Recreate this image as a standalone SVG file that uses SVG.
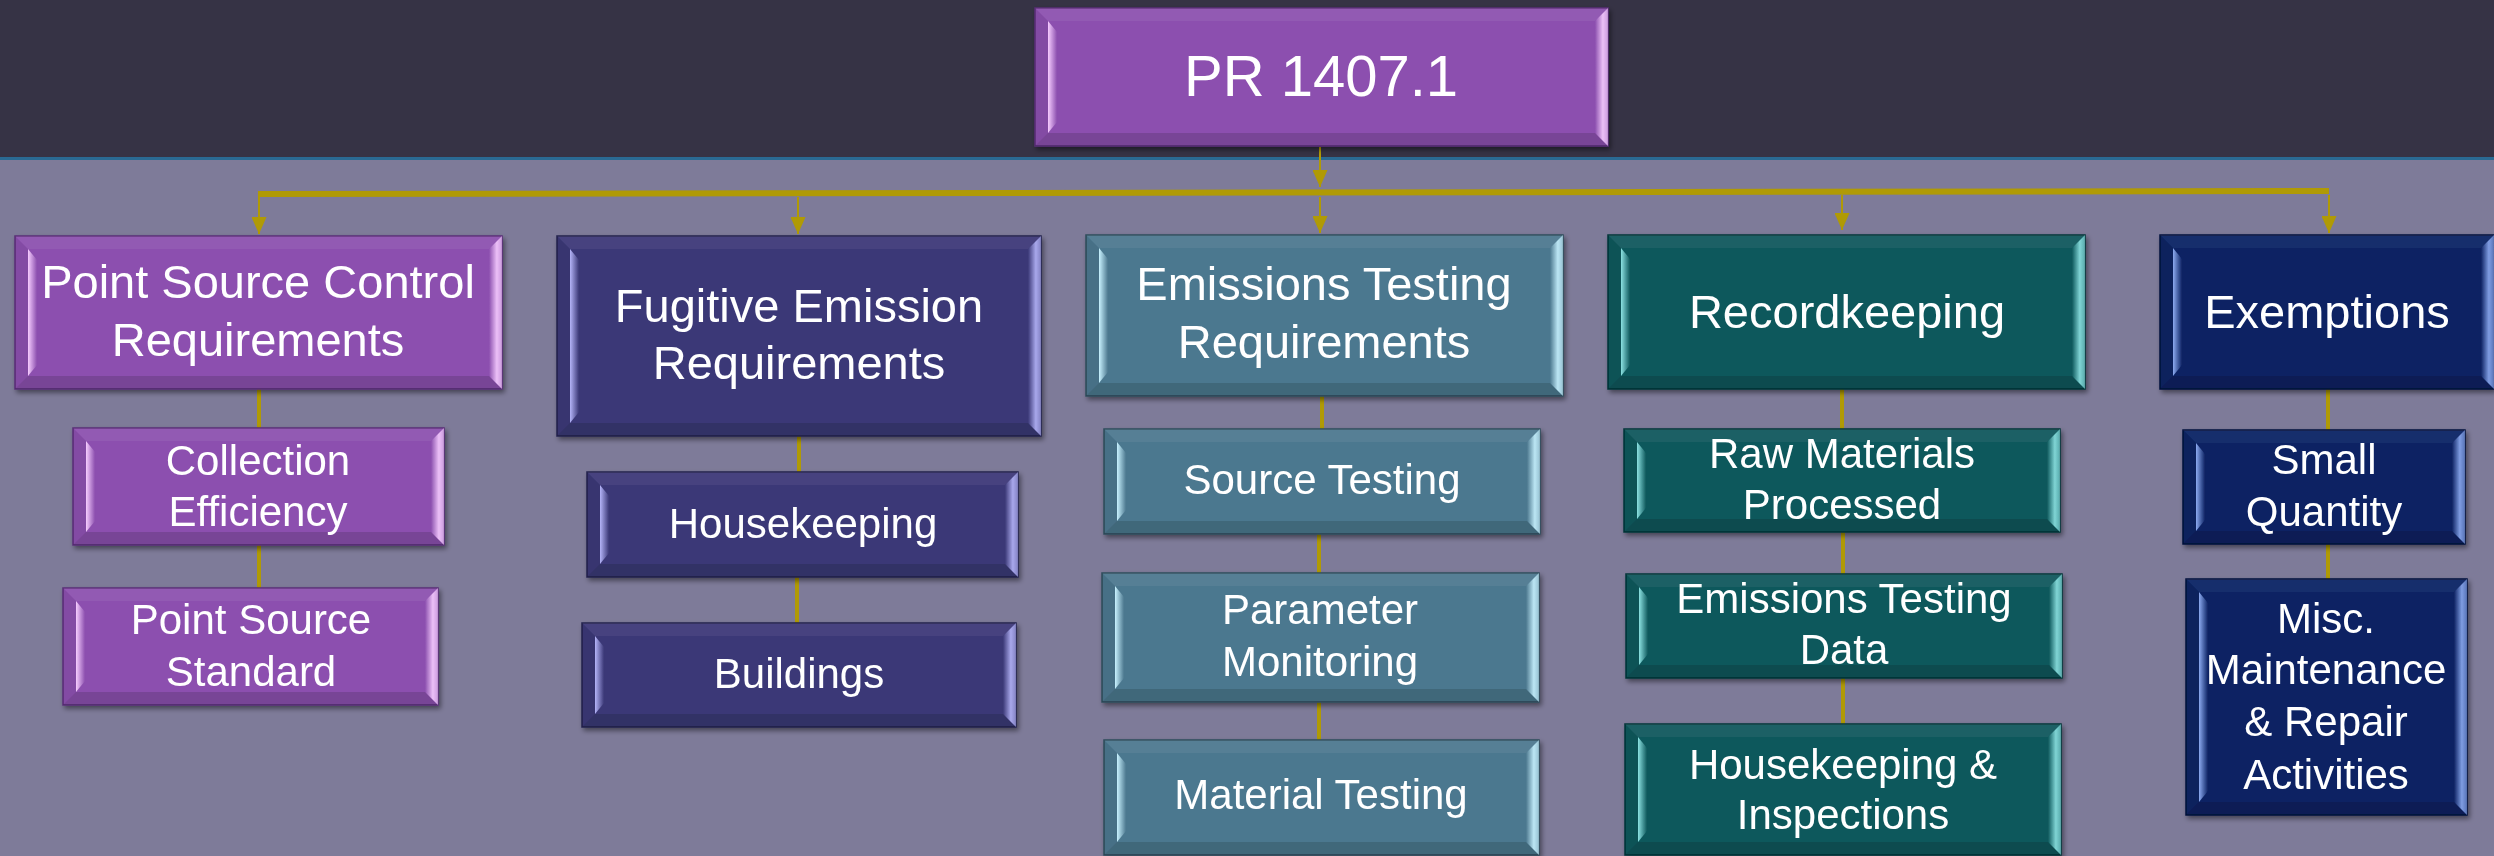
<svg xmlns="http://www.w3.org/2000/svg" width="2494" height="856" viewBox="0 0 2494 856">
<defs>
<style>
.t{font-family:"Liberation Sans",Arial,sans-serif;fill:#fff;text-anchor:middle}
.t0{font-size:58px}
.t1{font-size:47px}
.t2{font-size:42px}
.box{stroke-width:1.5}
.top{fill:#fff;fill-opacity:.06}
.bot{fill:#000;fill-opacity:.14}
.lft{fill:#000;fill-opacity:.06}
.purple .box{fill:#8C50AF;stroke:#5A2E78}
.purple .lhl{fill:url(#lhlP)}
.purple .rt{fill:url(#rtP)}
.indigo .box{fill:#3B3877;stroke:#24224E}
.indigo .lhl{fill:url(#lhlI)}
.indigo .rt{fill:url(#rtI)}
.steel .box{fill:#4C788F;stroke:#2E4C5C}
.steel .lhl{fill:url(#lhlS)}
.steel .rt{fill:url(#rtS)}
.teal .box{fill:#0D585C;stroke:#053538}
.teal .lhl{fill:url(#lhlT)}
.teal .rt{fill:url(#rtT)}
.navy .box{fill:#0B2263;stroke:#06143E}
.navy .lhl{fill:url(#lhlN)}
.navy .rt{fill:url(#rtN)}
.node{filter:url(#sh)}
.conn{stroke:#B09A05;fill:none}
.vline{stroke-width:4}
.arrow{stroke-width:2;marker-end:url(#ah)}
</style>
<filter id="sh" x="-5%" y="-5%" width="112%" height="115%">
<feDropShadow dx="2" dy="3" stdDeviation="2.5" flood-color="#000" flood-opacity="0.45"/>
</filter>
<marker id="ah" viewBox="0 0 17 15" refX="17" refY="7.5" markerWidth="17" markerHeight="15" markerUnits="userSpaceOnUse" orient="auto">
<path d="M0,0 L17,7.5 L0,15 Z" fill="#B09A05"/>
</marker>
<linearGradient id="lhlP" x1="0" y1="0" x2="1" y2="0"><stop offset="0" stop-color="#F6CCFF" stop-opacity="1"/><stop offset="1" stop-color="#F6CCFF" stop-opacity="0"/></linearGradient>
<linearGradient id="rtP" x1="0" y1="0" x2="1" y2="0"><stop offset="0" stop-color="#F6CCFF" stop-opacity="0"/><stop offset="0.6" stop-color="#F6CCFF" stop-opacity="0.9"/><stop offset="1" stop-color="#F6CCFF" stop-opacity="0.6"/></linearGradient>
<linearGradient id="lhlI" x1="0" y1="0" x2="1" y2="0"><stop offset="0" stop-color="#B4B4F8" stop-opacity="1"/><stop offset="1" stop-color="#B4B4F8" stop-opacity="0"/></linearGradient>
<linearGradient id="rtI" x1="0" y1="0" x2="1" y2="0"><stop offset="0" stop-color="#B4B4F8" stop-opacity="0"/><stop offset="0.6" stop-color="#B4B4F8" stop-opacity="0.9"/><stop offset="1" stop-color="#B4B4F8" stop-opacity="0.6"/></linearGradient>
<linearGradient id="lhlS" x1="0" y1="0" x2="1" y2="0"><stop offset="0" stop-color="#C8F2FF" stop-opacity="1"/><stop offset="1" stop-color="#C8F2FF" stop-opacity="0"/></linearGradient>
<linearGradient id="rtS" x1="0" y1="0" x2="1" y2="0"><stop offset="0" stop-color="#C8F2FF" stop-opacity="0"/><stop offset="0.6" stop-color="#C8F2FF" stop-opacity="0.9"/><stop offset="1" stop-color="#C8F2FF" stop-opacity="0.6"/></linearGradient>
<linearGradient id="lhlT" x1="0" y1="0" x2="1" y2="0"><stop offset="0" stop-color="#8CE2E2" stop-opacity="1"/><stop offset="1" stop-color="#8CE2E2" stop-opacity="0"/></linearGradient>
<linearGradient id="rtT" x1="0" y1="0" x2="1" y2="0"><stop offset="0" stop-color="#8CE2E2" stop-opacity="0"/><stop offset="0.6" stop-color="#8CE2E2" stop-opacity="0.9"/><stop offset="1" stop-color="#8CE2E2" stop-opacity="0.6"/></linearGradient>
<linearGradient id="lhlN" x1="0" y1="0" x2="1" y2="0"><stop offset="0" stop-color="#8CAAF0" stop-opacity="1"/><stop offset="1" stop-color="#8CAAF0" stop-opacity="0"/></linearGradient>
<linearGradient id="rtN" x1="0" y1="0" x2="1" y2="0"><stop offset="0" stop-color="#8CAAF0" stop-opacity="0"/><stop offset="0.6" stop-color="#8CAAF0" stop-opacity="0.9"/><stop offset="1" stop-color="#8CAAF0" stop-opacity="0.6"/></linearGradient>
</defs>

<g id="background">
<rect x="0" y="0" width="2494" height="856" fill="#7E7B99"/>
<rect x="0" y="0" width="2494" height="157" fill="#363345"/>
<rect x="0" y="157" width="2494" height="3" fill="#2A6A93"/>
</g>

<g id="connectors">
<line class="conn arrow" x1="1320" y1="147" x2="1320" y2="187"/>
<line class="conn" x1="258" y1="194" x2="2329" y2="191" stroke-width="6"/>
<line class="conn arrow" x1="259" y1="197" x2="259" y2="234"/>
<line class="conn arrow" x1="798" y1="197" x2="798" y2="234"/>
<line class="conn arrow" x1="1320" y1="197" x2="1320" y2="233"/>
<line class="conn arrow" x1="1842" y1="195" x2="1842" y2="230"/>
<line class="conn arrow" x1="2329" y1="195" x2="2329" y2="233"/>
<line class="conn vline" x1="259" y1="389" x2="259" y2="428"/>
<line class="conn vline" x1="259" y1="545" x2="259" y2="588"/>
<line class="conn vline" x1="799" y1="436" x2="799" y2="472"/>
<line class="conn vline" x1="797" y1="577" x2="797" y2="623"/>
<line class="conn vline" x1="1322" y1="396" x2="1322" y2="429"/>
<line class="conn vline" x1="1319" y1="534" x2="1319" y2="573"/>
<line class="conn vline" x1="1319" y1="702" x2="1319" y2="740"/>
<line class="conn vline" x1="1842" y1="389" x2="1842" y2="429"/>
<line class="conn vline" x1="1843" y1="532" x2="1843" y2="574"/>
<line class="conn vline" x1="1843" y1="678" x2="1843" y2="724"/>
<line class="conn vline" x1="2328" y1="389" x2="2328" y2="430"/>
<line class="conn vline" x1="2328" y1="544" x2="2328" y2="579"/>
</g>

<g id="root" class="node purple">
<rect class="box" x="1035" y="8" width="573" height="138"/>
<polygon class="top" points="1035,8 1608,8 1595,21 1048,21"/>
<polygon class="bot" points="1035,146 1608,146 1595,133 1048,133"/>
<polygon class="lft" points="1035,8 1048,21 1048,133 1035,146"/>
<polygon class="lhl" points="1048,21 1057,32 1057,122 1048,133"/>
<polygon class="rt" points="1608,8 1595,21 1595,133 1608,146"/>
<text class="t t0" x="1321" y="96">PR 1407.1</text>
</g>

<g id="point-source-control" class="node purple">
<rect class="box" x="15" y="236" width="487" height="153"/>
<polygon class="top" points="15,236 502,236 489,249 28,249"/>
<polygon class="bot" points="15,389 502,389 489,376 28,376"/>
<polygon class="lft" points="15,236 28,249 28,376 15,389"/>
<polygon class="lhl" points="28,249 37,260 37,365 28,376"/>
<polygon class="rt" points="502,236 489,249 489,376 502,389"/>
<text class="t t1" x="258" y="298">Point Source Control</text>
<text class="t t1" x="258" y="356">Requirements</text>
</g>

<g id="collection-efficiency" class="node purple">
<rect class="box" x="73" y="428" width="371" height="117"/>
<polygon class="top" points="73,428 444,428 431,441 86,441"/>
<polygon class="bot" points="73,545 444,545 431,532 86,532"/>
<polygon class="lft" points="73,428 86,441 86,532 73,545"/>
<polygon class="lhl" points="86,441 95,452 95,521 86,532"/>
<polygon class="rt" points="444,428 431,441 431,532 444,545"/>
<text class="t t2" x="258" y="475">Collection</text>
<text class="t t2" x="258" y="526">Efficiency</text>
</g>

<g id="point-source-standard" class="node purple">
<rect class="box" x="63" y="588" width="375" height="117"/>
<polygon class="top" points="63,588 438,588 425,601 76,601"/>
<polygon class="bot" points="63,705 438,705 425,692 76,692"/>
<polygon class="lft" points="63,588 76,601 76,692 63,705"/>
<polygon class="lhl" points="76,601 85,612 85,681 76,692"/>
<polygon class="rt" points="438,588 425,601 425,692 438,705"/>
<text class="t t2" x="251" y="634">Point Source</text>
<text class="t t2" x="251" y="686">Standard</text>
</g>

<g id="fugitive-emission" class="node indigo">
<rect class="box" x="557" y="236" width="484" height="200"/>
<polygon class="top" points="557,236 1041,236 1028,249 570,249"/>
<polygon class="bot" points="557,436 1041,436 1028,423 570,423"/>
<polygon class="lft" points="557,236 570,249 570,423 557,436"/>
<polygon class="lhl" points="570,249 579,260 579,412 570,423"/>
<polygon class="rt" points="1041,236 1028,249 1028,423 1041,436"/>
<text class="t t1" x="799" y="322">Fugitive Emission</text>
<text class="t t1" x="799" y="379">Requirements</text>
</g>

<g id="housekeeping" class="node indigo">
<rect class="box" x="587" y="472" width="431" height="105"/>
<polygon class="top" points="587,472 1018,472 1005,485 600,485"/>
<polygon class="bot" points="587,577 1018,577 1005,564 600,564"/>
<polygon class="lft" points="587,472 600,485 600,564 587,577"/>
<polygon class="lhl" points="600,485 609,496 609,553 600,564"/>
<polygon class="rt" points="1018,472 1005,485 1005,564 1018,577"/>
<text class="t t2" x="803" y="538">Housekeeping</text>
</g>

<g id="buildings" class="node indigo">
<rect class="box" x="582" y="623" width="434" height="104"/>
<polygon class="top" points="582,623 1016,623 1003,636 595,636"/>
<polygon class="bot" points="582,727 1016,727 1003,714 595,714"/>
<polygon class="lft" points="582,623 595,636 595,714 582,727"/>
<polygon class="lhl" points="595,636 604,647 604,703 595,714"/>
<polygon class="rt" points="1016,623 1003,636 1003,714 1016,727"/>
<text class="t t2" x="799" y="688">Buildings</text>
</g>

<g id="emissions-testing" class="node steel">
<rect class="box" x="1086" y="235" width="477" height="161"/>
<polygon class="top" points="1086,235 1563,235 1550,248 1099,248"/>
<polygon class="bot" points="1086,396 1563,396 1550,383 1099,383"/>
<polygon class="lft" points="1086,235 1099,248 1099,383 1086,396"/>
<polygon class="lhl" points="1099,248 1108,259 1108,372 1099,383"/>
<polygon class="rt" points="1563,235 1550,248 1550,383 1563,396"/>
<text class="t t1" x="1324" y="300">Emissions Testing</text>
<text class="t t1" x="1324" y="358">Requirements</text>
</g>

<g id="source-testing" class="node steel">
<rect class="box" x="1104" y="429" width="436" height="105"/>
<polygon class="top" points="1104,429 1540,429 1527,442 1117,442"/>
<polygon class="bot" points="1104,534 1540,534 1527,521 1117,521"/>
<polygon class="lft" points="1104,429 1117,442 1117,521 1104,534"/>
<polygon class="lhl" points="1117,442 1126,453 1126,510 1117,521"/>
<polygon class="rt" points="1540,429 1527,442 1527,521 1540,534"/>
<text class="t t2" x="1322" y="494">Source Testing</text>
</g>

<g id="parameter-monitoring" class="node steel">
<rect class="box" x="1102" y="573" width="437" height="129"/>
<polygon class="top" points="1102,573 1539,573 1526,586 1115,586"/>
<polygon class="bot" points="1102,702 1539,702 1526,689 1115,689"/>
<polygon class="lft" points="1102,573 1115,586 1115,689 1102,702"/>
<polygon class="lhl" points="1115,586 1124,597 1124,678 1115,689"/>
<polygon class="rt" points="1539,573 1526,586 1526,689 1539,702"/>
<text class="t t2" x="1320" y="624">Parameter</text>
<text class="t t2" x="1320" y="676">Monitoring</text>
</g>

<g id="material-testing" class="node steel">
<rect class="box" x="1104" y="740" width="435" height="115"/>
<polygon class="top" points="1104,740 1539,740 1526,753 1117,753"/>
<polygon class="bot" points="1104,855 1539,855 1526,842 1117,842"/>
<polygon class="lft" points="1104,740 1117,753 1117,842 1104,855"/>
<polygon class="lhl" points="1117,753 1126,764 1126,831 1117,842"/>
<polygon class="rt" points="1539,740 1526,753 1526,842 1539,855"/>
<text class="t t2" x="1321" y="809">Material Testing</text>
</g>

<g id="recordkeeping" class="node teal">
<rect class="box" x="1608" y="235" width="477" height="154"/>
<polygon class="top" points="1608,235 2085,235 2072,248 1621,248"/>
<polygon class="bot" points="1608,389 2085,389 2072,376 1621,376"/>
<polygon class="lft" points="1608,235 1621,248 1621,376 1608,389"/>
<polygon class="lhl" points="1621,248 1630,259 1630,365 1621,376"/>
<polygon class="rt" points="2085,235 2072,248 2072,376 2085,389"/>
<text class="t t1" x="1847" y="328">Recordkeeping</text>
</g>

<g id="raw-materials" class="node teal">
<rect class="box" x="1624" y="429" width="436" height="103"/>
<polygon class="top" points="1624,429 2060,429 2047,442 1637,442"/>
<polygon class="bot" points="1624,532 2060,532 2047,519 1637,519"/>
<polygon class="lft" points="1624,429 1637,442 1637,519 1624,532"/>
<polygon class="lhl" points="1637,442 1646,453 1646,508 1637,519"/>
<polygon class="rt" points="2060,429 2047,442 2047,519 2060,532"/>
<text class="t t2" x="1842" y="468">Raw Materials</text>
<text class="t t2" x="1842" y="519">Processed</text>
</g>

<g id="emissions-testing-data" class="node teal">
<rect class="box" x="1626" y="574" width="436" height="104"/>
<polygon class="top" points="1626,574 2062,574 2049,587 1639,587"/>
<polygon class="bot" points="1626,678 2062,678 2049,665 1639,665"/>
<polygon class="lft" points="1626,574 1639,587 1639,665 1626,678"/>
<polygon class="lhl" points="1639,587 1648,598 1648,654 1639,665"/>
<polygon class="rt" points="2062,574 2049,587 2049,665 2062,678"/>
<text class="t t2" x="1844" y="613">Emissions Testing</text>
<text class="t t2" x="1844" y="664">Data</text>
</g>

<g id="housekeeping-inspections" class="node teal">
<rect class="box" x="1625" y="724" width="436" height="131"/>
<polygon class="top" points="1625,724 2061,724 2048,737 1638,737"/>
<polygon class="bot" points="1625,855 2061,855 2048,842 1638,842"/>
<polygon class="lft" points="1625,724 1638,737 1638,842 1625,855"/>
<polygon class="lhl" points="1638,737 1647,748 1647,831 1638,842"/>
<polygon class="rt" points="2061,724 2048,737 2048,842 2061,855"/>
<text class="t t2" x="1843" y="779">Housekeeping &amp;</text>
<text class="t t2" x="1843" y="829">Inspections</text>
</g>

<g id="exemptions" class="node navy">
<rect class="box" x="2160" y="235" width="334" height="154"/>
<polygon class="top" points="2160,235 2494,235 2481,248 2173,248"/>
<polygon class="bot" points="2160,389 2494,389 2481,376 2173,376"/>
<polygon class="lft" points="2160,235 2173,248 2173,376 2160,389"/>
<polygon class="lhl" points="2173,248 2182,259 2182,365 2173,376"/>
<polygon class="rt" points="2494,235 2481,248 2481,376 2494,389"/>
<text class="t t1" x="2327" y="328">Exemptions</text>
</g>

<g id="small-quantity" class="node navy">
<rect class="box" x="2183" y="430" width="282" height="114"/>
<polygon class="top" points="2183,430 2465,430 2452,443 2196,443"/>
<polygon class="bot" points="2183,544 2465,544 2452,531 2196,531"/>
<polygon class="lft" points="2183,430 2196,443 2196,531 2183,544"/>
<polygon class="lhl" points="2196,443 2205,454 2205,520 2196,531"/>
<polygon class="rt" points="2465,430 2452,443 2452,531 2465,544"/>
<text class="t t2" x="2324" y="474">Small</text>
<text class="t t2" x="2324" y="526">Quantity</text>
</g>

<g id="misc-maintenance" class="node navy">
<rect class="box" x="2186" y="579" width="281" height="236"/>
<polygon class="top" points="2186,579 2467,579 2454,592 2199,592"/>
<polygon class="bot" points="2186,815 2467,815 2454,802 2199,802"/>
<polygon class="lft" points="2186,579 2199,592 2199,802 2186,815"/>
<polygon class="lhl" points="2199,592 2208,603 2208,791 2199,802"/>
<polygon class="rt" points="2467,579 2454,592 2454,802 2467,815"/>
<text class="t t2" x="2326" y="633">Misc.</text>
<text class="t t2" x="2326" y="684">Maintenance</text>
<text class="t t2" x="2326" y="736">&amp; Repair</text>
<text class="t t2" x="2326" y="789">Activities</text>
</g>
</svg>
